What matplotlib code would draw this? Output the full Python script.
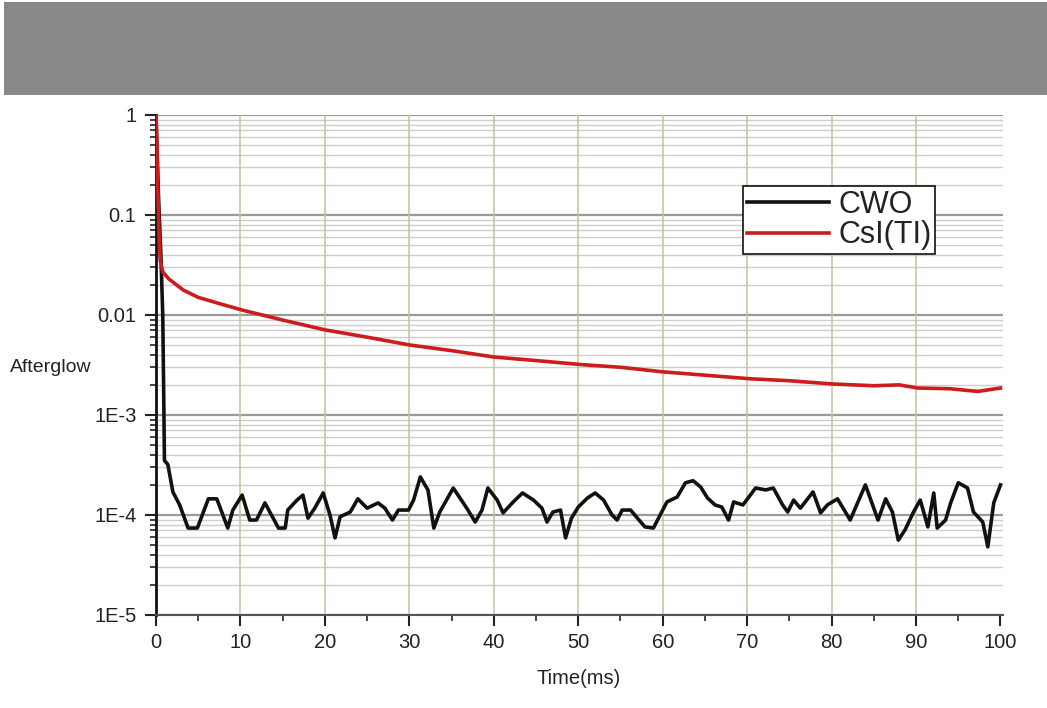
import matplotlib
matplotlib.use("Agg")
import matplotlib.pyplot as plt
from matplotlib.patches import Rectangle
from matplotlib.ticker import FixedLocator, FixedFormatter, NullFormatter
import numpy as np

# ---- data ----
cwo_t = [0.0, 0.3, 0.6, 0.8, 0.9, 1.0, 1.4, 2.0, 2.8, 3.8, 4.9, 6.2, 7.2, 8.5, 9.1, 10.2,
         11.1, 11.9, 12.9, 14.5, 15.3, 15.6, 16.7, 17.4, 18.0, 18.8, 19.8, 20.6, 21.2, 21.8,
         23.0, 23.9, 25.0, 26.3, 27.1, 28.0, 28.7, 29.9, 30.5, 31.3, 32.2, 32.9, 33.6, 35.2,
         36.8, 37.8, 38.6, 39.3, 40.4, 41.1, 42.3, 43.4, 44.7, 45.7, 46.3, 47.0, 47.9, 48.5,
         49.2, 50.0, 51.1, 52.0, 53.0, 54.0, 54.6, 55.2, 56.2, 57.0, 57.9, 58.9, 59.7, 60.5,
         61.7, 62.7, 63.6, 64.5, 65.3, 66.2, 67.0, 67.8, 68.4, 69.5, 71.0, 72.2, 73.1, 74.2,
         74.8, 75.5, 76.3, 77.8, 78.7, 79.5, 80.7, 82.2, 84.0, 85.5, 86.4, 87.2, 87.9, 88.7,
         89.7, 90.5, 91.4, 92.1, 92.5, 93.5, 94.1, 95.0, 96.1, 96.8, 97.9, 98.5, 99.2, 100.0]
cwo_v = [1.0, 0.15, 0.035, 0.01, 0.002, 3.5e-4, 3.2e-4, 1.7e-4, 1.26e-4, 7.4e-5, 7.4e-5, 1.45e-4,
         1.45e-4, 7.4e-5, 1.12e-4, 1.58e-4, 8.9e-5, 8.9e-5, 1.32e-4, 7.4e-5, 7.4e-5, 1.12e-4,
         1.41e-4, 1.58e-4, 9.3e-5, 1.17e-4, 1.66e-4, 1.0e-4, 5.9e-5, 9.6e-5, 1.07e-4, 1.45e-4,
         1.17e-4, 1.32e-4, 1.17e-4, 8.9e-5, 1.12e-4, 1.12e-4, 1.41e-4, 2.4e-4, 1.78e-4, 7.4e-5,
         1.07e-4, 1.86e-4, 1.17e-4, 8.5e-5, 1.12e-4, 1.86e-4, 1.41e-4, 1.05e-4, 1.35e-4, 1.66e-4,
         1.41e-4, 1.17e-4, 8.5e-5, 1.07e-4, 1.12e-4, 5.9e-5, 9.3e-5, 1.2e-4, 1.48e-4, 1.66e-4,
         1.41e-4, 1.0e-4, 8.9e-5, 1.12e-4, 1.12e-4, 9.3e-5, 7.6e-5, 7.4e-5, 1.0e-4, 1.35e-4,
         1.51e-4, 2.1e-4, 2.2e-4, 1.9e-4, 1.48e-4, 1.26e-4, 1.2e-4, 8.9e-5, 1.35e-4, 1.26e-4,
         1.86e-4, 1.78e-4, 1.86e-4, 1.26e-4, 1.07e-4, 1.41e-4, 1.17e-4, 1.7e-4, 1.05e-4, 1.26e-4,
         1.45e-4, 8.9e-5, 2.0e-4, 8.9e-5, 1.45e-4, 1.07e-4, 5.6e-5, 7.1e-5, 1.07e-4, 1.41e-4,
         7.6e-5, 1.66e-4, 7.4e-5, 8.9e-5, 1.32e-4, 2.1e-4, 1.86e-4, 1.07e-4, 8.5e-5, 4.8e-5,
         1.32e-4, 2.0e-4]

csi_t = [0.0, 0.1, 0.2, 0.35, 0.5, 0.8, 1.5, 3.2, 5.0, 7.5, 10.2, 15.0, 20.0, 25.0, 30.1, 35.0,
         40.0, 45.0, 50.2, 55.0, 60.0, 65.0, 70.4, 75.0, 80.2, 85.0, 88.0, 90.2, 94.0, 97.3, 100.0]
csi_v = [1.0, 0.5, 0.2, 0.07, 0.035, 0.027, 0.023, 0.0178, 0.015, 0.013, 0.0112, 0.0089, 0.0071,
         0.0060, 0.0050, 0.0044, 0.0038, 0.0035, 0.0032, 0.0030, 0.0027, 0.0025, 0.0023, 0.0022,
         0.00204, 0.00196, 0.00200, 0.00186, 0.00183, 0.00172, 0.00186]

x_ticks = [0, 10, 20, 30, 40, 50, 60, 70, 80, 90, 100]
y_ticks = [1e-5, 1e-4, 1e-3, 1e-2, 1e-1, 1]
y_labels = ["1E-5", "1E-4", "1E-3", "0.01", "0.1", "1"]

plt.rcParams['font.family'] = ['Liberation Sans', 'DejaVu Sans']

fig = plt.figure(figsize=(10.47, 7.08), dpi=100)
fig.patches.append(Rectangle((0.004, 0.866), 0.996, 0.131, transform=fig.transFigure,
                             facecolor='#888888', edgecolor='none', zorder=0))

ax = fig.add_axes([0.149, 0.1314, 0.809, 0.7062])
ax.set_yscale('log')
ax.set_ylim(1e-5, 1)
ax.set_xlim(0, 100.3)

# grid
minor_y = [m * 10.0 ** e for e in range(-5, 0) for m in range(2, 10)]
for v in minor_y:
    ax.axhline(v, color='#cdcdcd', lw=1.0, zorder=1)
for v in y_ticks:
    ax.axhline(v, color='#9a9a9a', lw=1.6, zorder=1)
for v in x_ticks[1:-1]:
    ax.axvline(v, color='#c2c29c', lw=1.1, zorder=1)

ax.plot(cwo_t, cwo_v, color='#111111', lw=2.6, label='CWO', zorder=3)
ax.plot(csi_t, csi_v, color='#cc1c1c', lw=2.6, label='CsI(TI)', zorder=4)

for s in ['top', 'right']:
    ax.spines[s].set_visible(False)
ax.spines['left'].set_color('#111111')
ax.spines['left'].set_linewidth(2.0)
ax.spines['bottom'].set_color('#555555')
ax.spines['bottom'].set_linewidth(1.5)

ax.yaxis.set_major_locator(FixedLocator(y_ticks))
ax.yaxis.set_major_formatter(FixedFormatter(y_labels))
ax.yaxis.set_minor_locator(FixedLocator(minor_y))
ax.yaxis.set_minor_formatter(NullFormatter())
ax.xaxis.set_major_locator(FixedLocator(x_ticks))
ax.xaxis.set_minor_locator(FixedLocator([5 + 10 * i for i in range(10)]))

ax.tick_params(axis='both', which='major', direction='out', length=8, width=1.5,
               color='#222222', labelsize=14.5, labelcolor='#222222')
ax.tick_params(axis='both', which='minor', direction='out', length=4, width=1.2,
               color='#222222')
ax.tick_params(axis='y', which='major', pad=6)
ax.tick_params(axis='x', which='major', pad=5)

leg = ax.legend(loc='upper left', bbox_to_anchor=(0.693, 0.858), borderaxespad=0,
                fancybox=False, framealpha=1, edgecolor='#111111', fontsize=22,
                handlelength=2.7, handletextpad=0.3, borderpad=0.12, labelspacing=0.02)
leg.get_frame().set_linewidth(1.2)
for t in leg.get_texts():
    t.set_color('#222222')

fig.text(10 / 1047, 1 - 368 / 708, 'Afterglow', fontsize=14, ha='left', va='center',
         color='#222222')
fig.text(579 / 1047, 1 - 678 / 708, 'Time(ms)', fontsize=14.5, ha='center', va='center',
         color='#222222')

fig.savefig('out.png', dpi=100)
